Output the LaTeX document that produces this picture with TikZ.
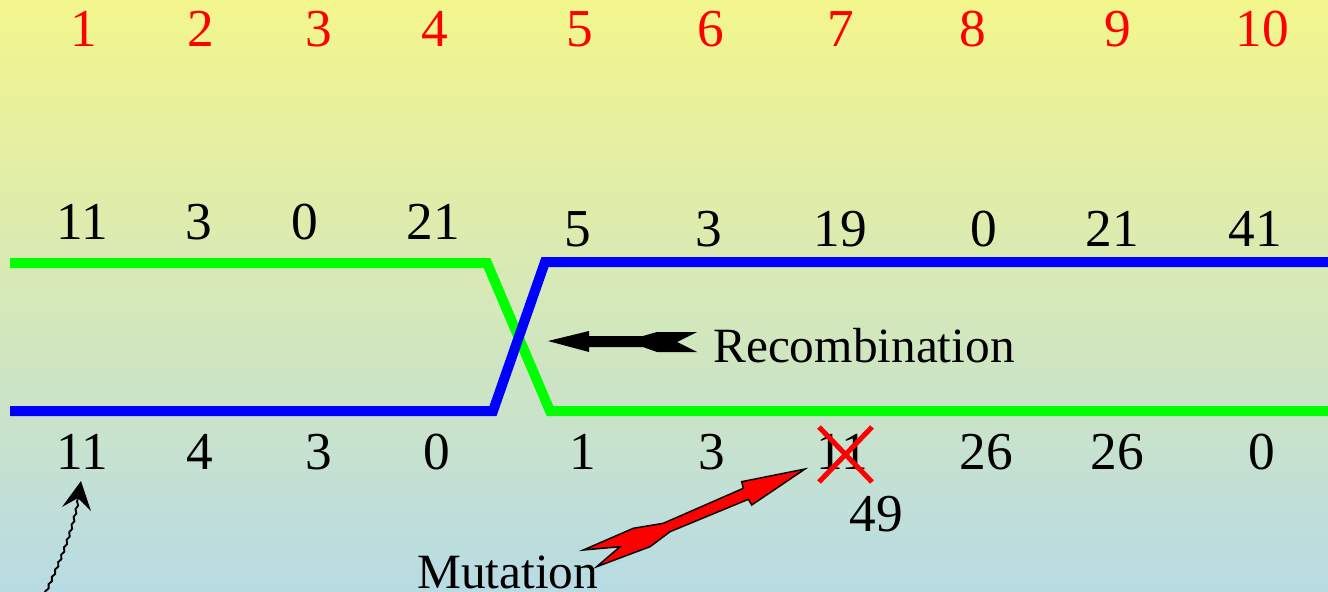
\documentclass[tikz,border=0pt]{standalone}
\usepackage{fontspec}
\setmainfont{Liberation Serif}
\usetikzlibrary{decorations.pathmorphing}
\definecolor{bgtop}{RGB}{243,246,140}
\definecolor{bgbot}{RGB}{184,219,228}
\definecolor{chromgreen}{RGB}{0,255,0}
\definecolor{chromblue}{RGB}{0,0,255}
\tikzset{
  locus/.style={anchor=base,inner sep=0pt,font=\fontsize{40}{48}\selectfont,text=red},
  gene/.style={anchor=base,inner sep=0pt,font=\fontsize{40}{48}\selectfont,text=black},
  lbl/.style={anchor=base west,inner sep=0pt,font=\fontsize{37}{44}\selectfont,text=black},
  strand/.style={line width=7.5pt,miter limit=10},
  fatarrow/.style={fill=black,draw=none},
  mutarrow/.style={fill=red,draw=black,line width=1.1pt,line join=miter},
  cross/.style={draw=red,line width=3.8pt},
}
\begin{document}
\begin{tikzpicture}[x=0.75pt,y=-0.75pt]
\useasboundingbox (0,0) rectangle (1328,592);
\shade[top color=bgtop,bottom color=bgbot] (0,0) rectangle (1328,592);

% locus numbers
\foreach \x/\t [count=\i] in {84/1,201/2,319/3,435/4,580/5,711/6,841/7,973/8,1118/9,1262/10}
  \node[locus] (p\i) at (\x,47) {\t};

% upper chromosome values
\foreach \x/\t [count=\i] in {82/11,199/3,305/0,433/21}
  \node[gene] (a\i) at (\x,239) {\t};
\foreach \x/\t [count=\i from 5] in {578/5,709/3,840/19,984/0,1112/21,1255/41}
  \node[gene] (a\i) at (\x,246) {\t};

% lower chromosome values
\foreach \x/\t [count=\i] in {82/11,200/4,319/3,437/0,583/1,712/3,842/11,986/26,1117/26,1262/0}
  \node[gene] (b\i) at (\x,469) {\t};
\node[gene] (new) at (876,531) {49};

% the two strands crossing over
\draw[strand,chromgreen] (10,263) -- (487,263) -- (550,411) -- (1328,411);
\draw[strand,chromblue] (10,411) -- (493,411) -- (545,262) -- (1328,262);
\coordinate (xover) at (548,341);

% recombination label and arrow
\node[lbl] (rec) at (713,362) {Recombination};
\fill[fatarrow] (xover) -- (589,331) -- (589,336) -- (643,336) -- (657,332)
  -- (697,332) -- (677,342) -- (697,352) -- (657,352) -- (643,347)
  -- (589,347) -- (589,352) -- cycle;

% mutated value struck out
\draw[cross] (819,427) -- (872,482);
\draw[cross] (872,427) -- (819,482);

% mutation label and arrow
\node[lbl] (mut) at (417,588) {Mutation};
\coordinate (mtip) at (805,469);
\draw[mutarrow] (mtip) -- (741.7,481.7) -- (743.3,488.3) -- (663.3,523.3)
  -- (633.3,528.3) -- (583.3,550) -- (620,546.7) -- (596.7,566.7)
  -- (650,546.7) -- (670,531.7) -- (748.3,499.3) -- (751.7,505) -- cycle;

% wavy pointer to the first value
\coordinate (wstart) at (45,594);
\coordinate (whead) at (78,498);
\draw[line width=1.4pt,decorate,decoration={snake,amplitude=0.7pt,segment length=6pt}]
  (wstart) .. controls (60,562) and (73,530) .. (whead);
\fill (81,481) -- (62,507) -- (78,498) -- (91,511) -- cycle;
\end{tikzpicture}
\end{document}
